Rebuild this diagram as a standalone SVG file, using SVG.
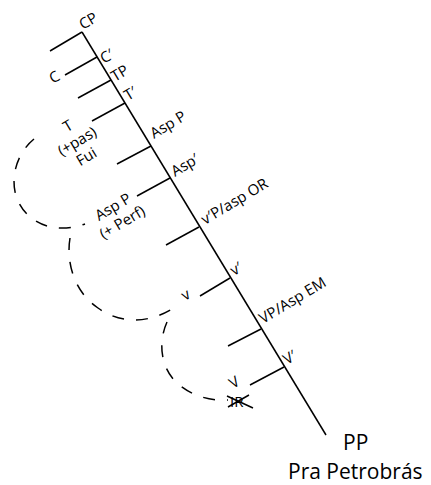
<svg xmlns="http://www.w3.org/2000/svg" width="431" height="485" viewBox="0 0 431 485">
<style>
.ln{stroke:#000;stroke-width:1.5;fill:none}
.dash{stroke:#000;stroke-width:1.5;fill:none;stroke-dasharray:12 12}
text{font-family:"Open Sans","Noto Sans",sans-serif;font-size:15px;fill:#000}
.big{font-size:21px}
</style>
<rect width="431" height="485" fill="#fff"/>
<g id="connectors">
<path class="ln" d="M82,32 L326,435"/>
<path class="ln" d="M82,32 L50,51"/>
<path class="ln" d="M97,57 L65,75"/>
<path class="ln" d="M111,80 L78,98"/>
<path class="ln" d="M125,103 L92,121"/>
<path class="ln" d="M151,146 L117,164"/>
<path class="ln" d="M170,178 L137,196"/>
<path class="ln" d="M199,227 L166,245"/>
<path class="ln" d="M230,278 L200,296"/>
<path class="ln" d="M261,329 L228,346"/>
<path class="ln" d="M284,367 L250,385"/>
<path class="dash" d="M34,139 C18,152 10,175 16,196 C24,220 50,236 85,224"/>
<path class="dash" d="M70,238 C66,262 74,292 98,308 C120,324 150,325 178,305"/>
<path class="dash" d="M167,322 C158,342 160,368 178,384 C192,396 210,401 228,400"/>
</g>
<g id="CP"><text transform="translate(83,30) rotate(-31)">CP</text></g>
<g id="Cbar"><text transform="translate(104,64) rotate(-31)">C′</text></g>
<g id="C"><text transform="translate(53,84) rotate(-31)">C</text></g>
<g id="TP"><text transform="translate(115,82) rotate(-31)">TP</text></g>
<g id="Tbar"><text transform="translate(128,101) rotate(-31)">T′</text></g>
<g id="T"><text transform="translate(68,126) rotate(-31)" text-anchor="middle"><tspan x="0" y="5">T</tspan><tspan x="0" y="23">(+pas)</tspan><tspan x="0" y="41">Fui</tspan></text></g>
<g id="AspP"><text transform="translate(154,139) rotate(-31)">Asp P</text></g>
<g id="Aspbar"><text transform="translate(175,177) rotate(-31)">Asp′</text></g>
<g id="AspPerf"><text transform="translate(113,207) rotate(-31)" text-anchor="middle"><tspan x="0" y="5">Asp P</tspan><tspan x="0" y="23">(+ Perf)</tspan></text></g>
<g id="vPaspOR"><text transform="translate(205,225) rotate(-31)">v′P/asp OR</text></g>
<g id="vbar"><text transform="translate(234,276) rotate(-31)">v′</text></g>
<g id="v"><text transform="translate(185,301) rotate(-31)">v</text></g>
<g id="VPAspEM"><text transform="translate(263,324) rotate(-31)">VP/Asp EM</text></g>
<g id="Vbar"><text transform="translate(287,365) rotate(-31)">V′</text></g>
<g id="V"><text transform="translate(233,389) rotate(-31)">V</text></g>
<g id="IR"><text x="230" y="407" font-size="13">IR</text><path class="ln" d="M227,396 L253,408 M228,407 L249,395" stroke-width="1"/></g>
<g id="PP"><text class="big" x="343" y="450">PP</text><text class="big" x="288" y="479">Pra Petrobrás</text></g>
</svg>
